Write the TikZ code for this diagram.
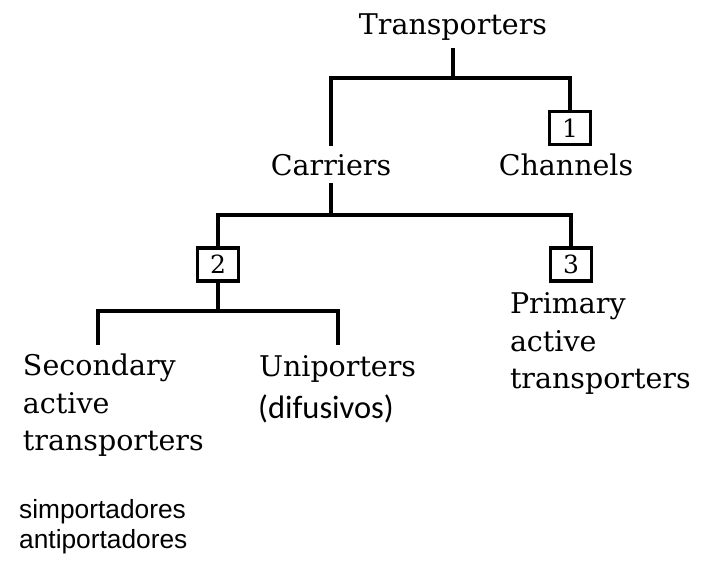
\documentclass[tikz,border=0pt]{standalone}
\usepackage{fontspec}
\setmainfont{DejaVu Serif}
\newfontfamily\arialfont{Liberation Sans}
\newfontfamily\calfont{Carlito}

\tikzset{
  tree/.style={line width=3.3pt},
  numbox/.style={draw,line width=3.3pt,minimum width=41pt,minimum height=33pt,inner sep=0pt,font=\fontsize{25}{25}\selectfont},
  word/.style={inner sep=0pt,outer sep=8pt,font=\fontsize{28.5}{37.5}\selectfont},
}

\begin{document}
\begin{tikzpicture}[x=1pt,y=-1pt]%,cap=round,>=latex]
\useasboundingbox (0,0) rectangle (709,562);

\node [word,anchor=base] (trans) at (453,34) {Transporters};
\node [word,anchor=base] (carr) at (331,175) {Carriers};
\node [numbox] (one) at (570,128) {1};
\node [word,anchor=base] (chan) at (566,175) {Channels};
\node [numbox] (two) at (218,264.5) {2};
\node [numbox] (three) at (571,264.5) {3};
\node [word,outer sep=0pt,anchor=north west,align=left] (sec) at (23,354) {Secondary\\active\\transporters};
\node [word,outer sep=0pt,anchor=base west] (uni) at (259,376) {Uniporters};
\node [anchor=base west,inner sep=0pt,font=\calfont\fontsize{32.5}{32.5}\selectfont] (dif) at (258,418) {(difusivos)};
\node [word,outer sep=0pt,anchor=north west,align=left] (prim) at (510,293) {Primary\\active\\transporters};
\node [anchor=north west,inner sep=0pt,align=left,font=\arialfont\fontsize{26.3}{30}\selectfont] (simp) at (19,499.5) {simportadores\\antiportadores};

\coordinate (j1) at (453,78);
\coordinate (j2) at (331,215);
\coordinate (j3) at (218,311);
\coordinate (s1) at (98,345);
\coordinate (u1) at (338,345);

\draw [tree] (trans) -- (j1);
\draw [tree] (j1) -| (carr);
\draw [tree] (j1) -| (one);
\draw [tree] (carr) -- (j2);
\draw [tree] (j2) -| (two);
\draw [tree] (j2) -| (three);
\draw [tree] (two) -- (j3);
\draw [tree] (j3) -| (s1);
\draw [tree] (j3) -| (u1);

\end{tikzpicture}
\end{document}
